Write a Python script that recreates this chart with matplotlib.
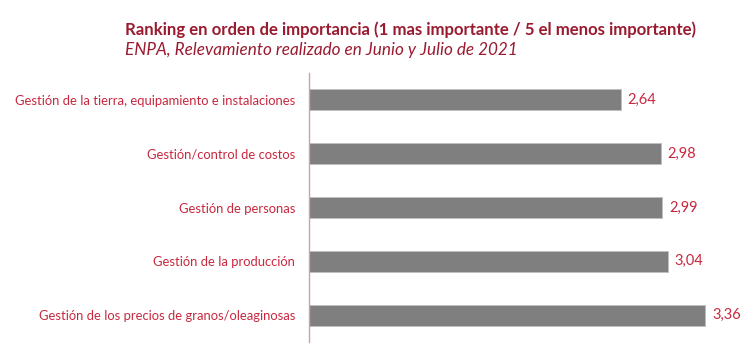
import matplotlib
matplotlib.use("Agg")
import matplotlib.pyplot as plt

# ---------------------------------------------------------------------------
# Datos
# ---------------------------------------------------------------------------
categorias = [
    "Gestión de la tierra, equipamiento e instalaciones",
    "Gestión/control de costos",
    "Gestión de personas",
    "Gestión de la producción",
    "Gestión de los precios de granos/oleaginosas",
]
valores = [2.64, 2.98, 2.99, 3.04, 3.36]
etiquetas = ["2,64", "2,98", "2,99", "3,04", "3,36"]

titulo = "Ranking en orden de importancia (1 mas importante / 5 el menos importante)"
subtitulo = "ENPA, Relevamiento realizado en Junio y Julio de 2021"

ROJO_TIT = "#9a1b30"
ROJO_TXT = "#c8283f"
GRIS = "#7f7f7f"

plt.rcParams["font.family"] = ["Lato", "DejaVu Sans"]

W, H = 752, 355
fig = plt.figure(figsize=(W / 100, H / 100), dpi=100)

x0, x1 = 309, 752
y_top, y_bot = 73, 342
ax = fig.add_axes([x0 / W, 1 - y_bot / H, (x1 - x0) / W, (y_bot - y_top) / H])

px_por_unidad = 118.0
pos = list(range(len(categorias)))
ax.barh(pos, valores, height=0.39, color=GRIS, edgecolor="#bfbfbf", linewidth=0.6)
ax.set_xlim(0, (x1 - x0) / px_por_unidad)
ax.set_ylim(len(categorias) - 0.5, -0.5)

for p, v, t in zip(pos, valores, etiquetas):
    ax.text(v + 0.06, p, t, va="center", ha="left", fontsize=10.5, color=ROJO_TXT)

ax.set_yticks(pos)
ax.set_yticklabels(categorias, fontsize=9.4, color=ROJO_TXT)
ax.tick_params(axis="y", length=0, pad=10)
ax.set_xticks([])
for lado in ["top", "right", "bottom"]:
    ax.spines[lado].set_visible(False)
ax.spines["left"].set_color("#c9a3ab")
ax.spines["left"].set_linewidth(1.0)

fig.text(125 / W, 1 - 30 / H, titulo, fontsize=12.1, fontweight="bold",
         color=ROJO_TIT, va="center", ha="left")
fig.text(125 / W, 1 - 50 / H, subtitulo, fontsize=12.3, style="italic",
         color=ROJO_TIT, va="center", ha="left")

fig.savefig("out.png", dpi=100)
